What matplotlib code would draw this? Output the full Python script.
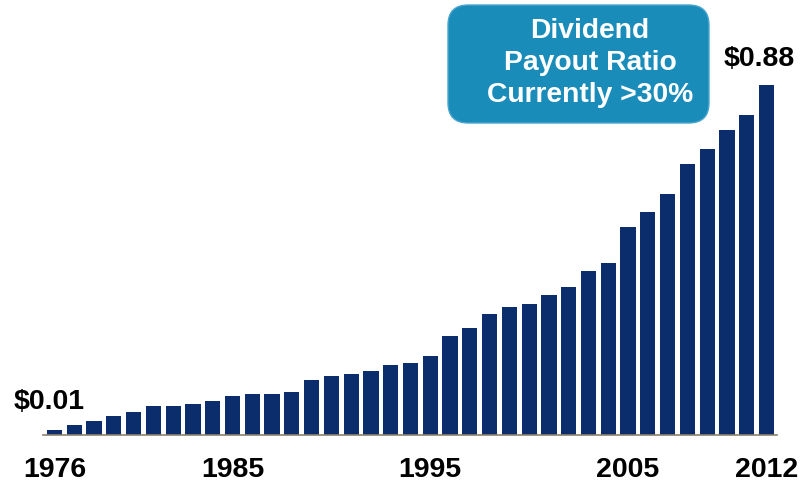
import matplotlib
matplotlib.use("Agg")
import matplotlib.pyplot as plt
from matplotlib.patches import FancyBboxPatch

years = list(range(1976, 2013))
dividends = [0.012, 0.025, 0.033, 0.046, 0.057, 0.071, 0.071, 0.077, 0.084, 0.098,
             0.101, 0.101, 0.108, 0.136, 0.148, 0.152, 0.159, 0.174, 0.181, 0.197,
             0.249, 0.269, 0.302, 0.322, 0.329, 0.352, 0.372, 0.411, 0.432, 0.522,
             0.559, 0.604, 0.680, 0.718, 0.766, 0.804, 0.880]
tick_years = [1976, 1985, 1995, 2005, 2012]
first_label = "$0.01"
last_label = "$0.88"
box_text = "Dividend\nPayout Ratio\nCurrently >30%"

plt.rcParams['font.family'] = ['Liberation Sans', 'DejaVu Sans']

fig = plt.figure(figsize=(8.05, 4.86), dpi=100)
ax = fig.add_axes([43/805, (486-434.5)/486, (777-43)/805, (434.5-37)/486])

x = list(range(len(years)))
ax.bar(x, dividends, width=0.77, color='#0c2d6b', zorder=2)
ax.set_xlim(-0.58, 36.53)
ax.set_ylim(0, 1.0)

for s in ['top', 'right', 'left']:
    ax.spines[s].set_visible(False)
ax.spines['bottom'].set_color('#8c8270')
ax.spines['bottom'].set_linewidth(1.2)
ax.set_yticks([])
ax.set_xticks([years.index(y) for y in tick_years])
ax.set_xticklabels([str(y) for y in tick_years], fontsize=20.5, fontweight='bold')
ax.tick_params(axis='x', length=0, pad=16)

ax.annotate(first_label, (x[0], dividends[0]), xytext=(-5, 15), textcoords='offset pixels',
            ha='center', va='bottom', fontsize=20.5, fontweight='bold')
ax.annotate(last_label, (x[-1], dividends[-1]), xytext=(-7, 13), textcoords='offset pixels',
            ha='center', va='bottom', fontsize=20.5, fontweight='bold')

W, H = 805, 486
bx0, by0, bx1, by1 = 448, 5, 709, 123
box = FancyBboxPatch((bx0/W, 1-by1/H), (bx1-bx0)/W, (by1-by0)/H,
                     boxstyle="round,pad=0,rounding_size=0.025",
                     transform=fig.transFigure, facecolor='#1a8cba',
                     edgecolor='#4aa6cf', linewidth=1.0, mutation_aspect=W/H)
fig.patches.append(box)
fig.text(590/W, 1-62.5/H, box_text, ha='center', va='center', color='white',
         fontsize=20.3, fontweight='bold', linespacing=1.3)

fig.savefig('out.png', dpi=100)
